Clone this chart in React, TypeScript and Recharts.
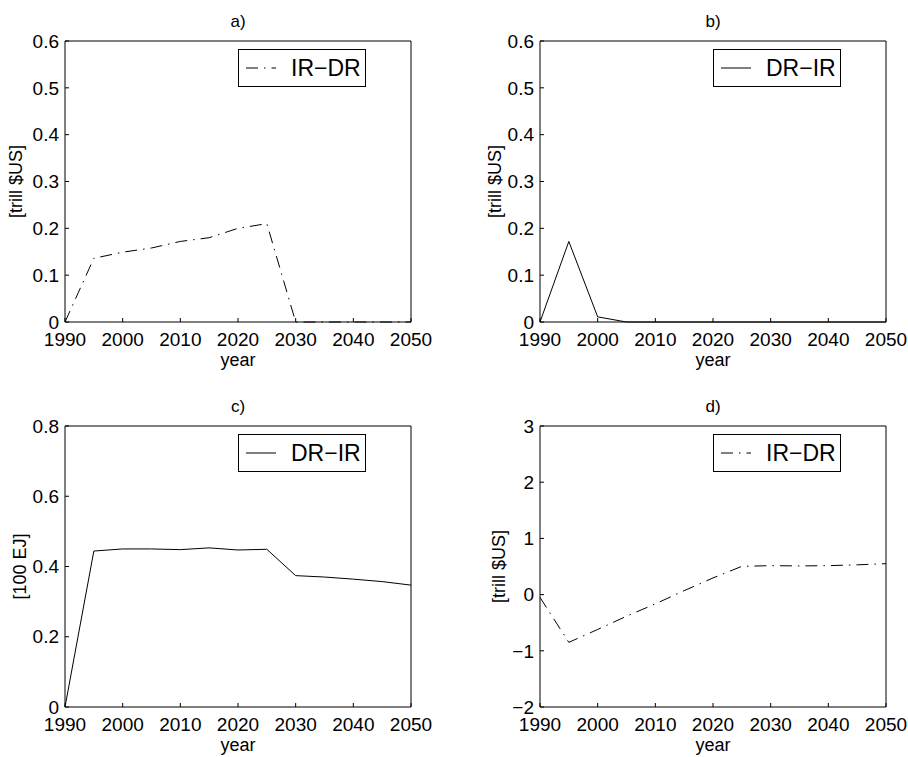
import { LineChart, Line, XAxis, YAxis, Legend } from 'recharts';

const years = [1990, 1995, 2000, 2005, 2010, 2015, 2020, 2025, 2030, 2035, 2040, 2045, 2050];
const yearTicks = [1990, 2000, 2010, 2020, 2030, 2040, 2050];

// a) IR-DR cost difference [trill $US]
const costIrDr = [0, 0.136, 0.149, 0.158, 0.172, 0.18, 0.2, 0.21, 0, 0, 0, 0, 0];
// b) DR-IR cost difference [trill $US]
const costDrIr = [0, 0.172, 0.011, 0, 0, 0, 0, 0, 0, 0, 0, 0, 0];
// c) DR-IR energy difference [100 EJ]
const energyDrIr = [0, 0.444, 0.45, 0.45, 0.448, 0.453, 0.447, 0.449, 0.374, 0.37, 0.364, 0.357, 0.347];
// d) IR-DR total difference [trill $US]
const totalIrDr = [-0.05, -0.85, -0.62, -0.385, -0.165, 0.07, 0.296, 0.503, 0.515, 0.51, 0.515, 0.53, 0.55];

const ticksA = [0, 0.1, 0.2, 0.3, 0.4, 0.5, 0.6];
const ticksC = [0, 0.2, 0.4, 0.6, 0.8];
const ticksD = [-2, -1, 0, 1, 2, 3];

const DASH_DOT = '12 6 1.5 6';
const FONT = '"Liberation Sans", Arial, Helvetica, sans-serif';

const panels = [
  { title: 'a)', name: 'IR\u2212DR', unit: '[trill $US]', values: costIrDr, ticks: ticksA, dash: DASH_DOT, left: 0, top: 0, yw: 65, mt: 41, mr: 42, xh: 57, ylab: 16 },
  { title: 'b)', name: 'DR\u2212IR', unit: '[trill $US]', values: costDrIr, ticks: ticksA, dash: undefined, left: 454, top: 0, yw: 86, mt: 41, mr: 21, xh: 57, ylab: 41 },
  { title: 'c)', name: 'DR\u2212IR', unit: '[100 EJ]', values: energyDrIr, ticks: ticksC, dash: undefined, left: 0, top: 378, yw: 65, mt: 48, mr: 42, xh: 50, ylab: 20 },
  { title: 'd)', name: 'IR\u2212DR', unit: '[trill $US]', values: totalIrDr, ticks: ticksD, dash: DASH_DOT, left: 454, top: 378, yw: 86, mt: 48, mr: 21, xh: 50, ylab: 45 },
];

const W = 454;
const H = 379;

const fmtTick = (v: number) => String(v).replace('-', '\u2212');

function Panel({ p }: { p: (typeof panels)[number] }) {
  const data = years.map((y, i) => ({ year: y, value: p.values[i] }));
  const plotRight = W - p.mr - 1;
  const legendLeft = plotRight - 45 - 128;

  const renderLegend = () => (
    <div
      style={{
        width: 126,
        height: 36,
        border: '1px solid #000',
        background: '#fff',
        display: 'flex',
        alignItems: 'center',
        fontSize: 23,
        color: '#000',
      }}
    >
      <svg width={46} height={10} style={{ marginLeft: 6 }}>
        <line x1={1} y1={5} x2={31} y2={5} stroke="#000" strokeWidth={1} strokeDasharray={p.dash} />
      </svg>
      <span>{p.name}</span>
    </div>
  );

  return (
    <div style={{ position: 'absolute', left: p.left, top: p.top }}>
      <LineChart
        width={W}
        height={H}
        data={data}
        style={{ overflow: 'visible' }}
        margin={{ top: p.mt - 1, right: p.mr, bottom: 0, left: 0 }}
      >
        <XAxis
          xAxisId="b"
          dataKey="year"
          type="number"
          domain={[1990, 2050]}
          ticks={yearTicks}
          height={p.xh}
          tickSize={-4}
          tickMargin={15}
          tick={{ fill: '#000', fontSize: 19 }}
          axisLine={{ stroke: '#000' }}
          tickLine={{ stroke: '#000' }}
          label={{ value: 'year', position: 'insideTop', offset: 31, fill: '#000', fontSize: 18 }}
        />
        <XAxis
          xAxisId="t"
          orientation="top"
          dataKey="year"
          type="number"
          domain={[1990, 2050]}
          ticks={yearTicks}
          height={1}
          tickSize={-4}
          tick={false}
          axisLine={{ stroke: '#000' }}
          tickLine={{ stroke: '#000' }}
          label={{ value: p.title, position: 'top', offset: 13, fill: '#000', fontSize: 17 }}
        />
        <YAxis
          yAxisId="l"
          type="number"
          domain={[p.ticks[0], p.ticks[p.ticks.length - 1]]}
          ticks={p.ticks}
          width={p.yw}
          tickSize={-4}
          tickMargin={10}
          tickFormatter={fmtTick}
          tick={{ fill: '#000', fontSize: 19 }}
          axisLine={{ stroke: '#000' }}
          tickLine={{ stroke: '#000' }}
          label={{
            value: p.unit,
            angle: -90,
            position: 'insideLeft',
            offset: p.ylab,
            fill: '#000',
            fontSize: 18,
            style: { textAnchor: 'middle' },
          }}
        />
        <YAxis
          yAxisId="r"
          orientation="right"
          type="number"
          domain={[p.ticks[0], p.ticks[p.ticks.length - 1]]}
          ticks={p.ticks}
          width={1}
          tickSize={-4}
          tick={false}
          axisLine={{ stroke: '#000' }}
          tickLine={{ stroke: '#000' }}
        />
        <Legend
          layout="horizontal"
          verticalAlign="middle"
          align="center"
          content={renderLegend}
          wrapperStyle={{ position: 'absolute', left: legendLeft, top: p.mt + 8, width: 128, height: 38 }}
        />
        <Line
          xAxisId="b"
          yAxisId="l"
          type="linear"
          dataKey="value"
          name={p.name}
          stroke="#000"
          strokeWidth={1}
          strokeDasharray={p.dash}
          dot={false}
          activeDot={false}
          isAnimationActive={false}
        />
      </LineChart>
    </div>
  );
}

export default function App() {
  return (
    <>
      <style>{'html, body { margin: 0; overflow: hidden; background: #fff; }'}</style>
      <div style={{ position: 'absolute', left: 0, top: 0, width: 908, height: 757, background: '#fff', fontFamily: FONT }}>
        {panels.map((p) => (
          <Panel key={p.title} p={p} />
        ))}
      </div>
    </>
  );
}
